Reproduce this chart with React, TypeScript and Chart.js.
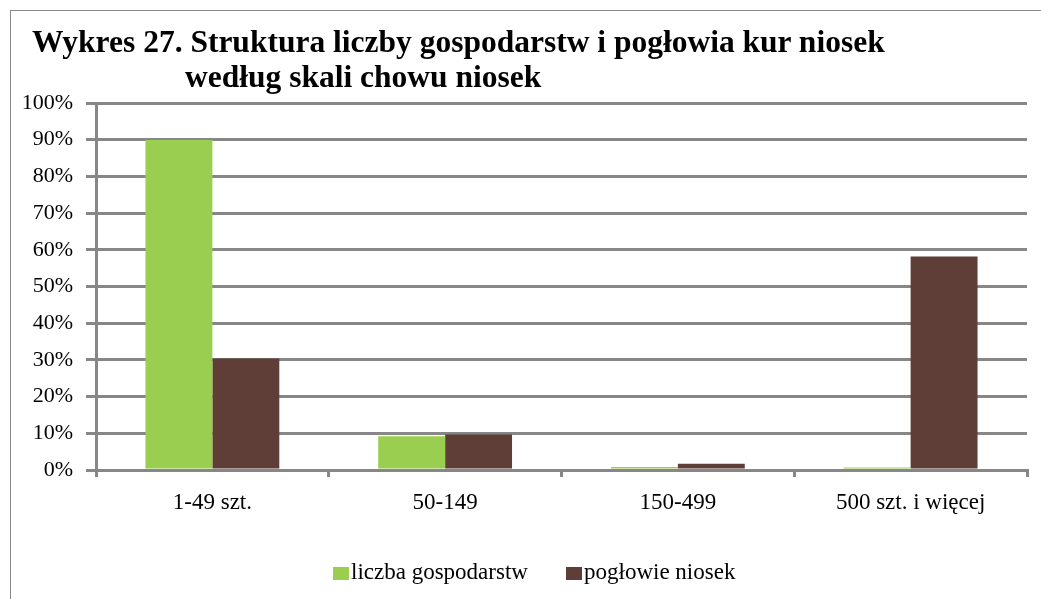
import React, { useEffect, useRef } from 'react';
import { Chart, registerables } from 'chart.js';

Chart.register(...registerables);

const titleLine1 = 'Wykres 27. Struktura liczby gospodarstw i pogłowia kur niosek';
const titleLine2 = 'według skali chowu niosek';
const categories = ['1-49 szt.', '50-149', '150-499', '500 szt. i więcej'];
const seriesNames = ['liczba gospodarstw', 'pogłowie niosek'];
const liczbaGospodarstw = [89.9, 9.2, 0.8, 0.7];
const poglowieNiosek = [30.4, 9.7, 1.7, 58.2];
const yMin = 0;
const yMax = 100;
const yStep = 10;

const GREEN = '#99CE50';
const BROWN = '#5F3E38';
const GRID = '#878787';
const FONT = '"Liberation Serif", "Times New Roman", serif';
const seriesColors = [GREEN, BROWN];
const legendBoxX = [333, 566];

export default function App() {
  const ref = useRef<HTMLCanvasElement>(null);

  useEffect(() => {
    if (!ref.current) return;
    const chart = new Chart(ref.current, {
      type: 'bar',
      data: {
        labels: categories,
        datasets: [
          {
            label: seriesNames[0],
            data: liczbaGospodarstw,
            backgroundColor: seriesColors[0],
            borderWidth: 0,
            categoryPercentage: 0.575,
            barPercentage: 1.0,
          },
          {
            label: seriesNames[1],
            data: poglowieNiosek,
            backgroundColor: seriesColors[1],
            borderWidth: 0,
            categoryPercentage: 0.575,
            barPercentage: 1.0,
          },
        ],
      },
      options: {
        responsive: false,
        animation: false,
        layout: { padding: { left: 0, right: 14, top: 103, bottom: 46 } },
        plugins: {
          title: { display: false },
          tooltip: { enabled: false },
          legend: { display: false },
        },
        scales: {
          x: {
            afterFit: (s: any) => {
              s.height = 83;
            },
            grid: {
              display: true,
              drawOnChartArea: false,
              drawTicks: true,
              tickLength: 7,
              color: GRID,
              lineWidth: 3,
              offset: true,
            },
            border: { display: true, color: GRID, width: 3 },
            ticks: {
              color: '#000',
              padding: 12,
              font: { family: FONT, size: 23 },
              maxRotation: 0,
            },
          },
          y: {
            min: yMin,
            max: yMax,
            afterFit: (s: any) => {
              s.width = 96;
            },
            grid: {
              display: true,
              drawTicks: true,
              tickLength: 10,
              color: GRID,
              lineWidth: 3,
            },
            border: { display: true, color: GRID, width: 3 },
            ticks: {
              stepSize: yStep,
              color: '#000',
              padding: 13,
              font: { family: FONT, size: 22 },
              callback: (v: any) => v + '%',
            },
          },
        },
      },
    });
    return () => chart.destroy();
  }, []);

  return (
    <div style={{ position: 'fixed', left: 0, top: 0, width: 1041, height: 599, background: '#fff', overflow: 'hidden' }}>
      <div
        style={{
          position: 'absolute',
          left: 10,
          top: 10,
          right: -2,
          bottom: -2,
          borderTop: '1px solid #8a8a8a',
          borderLeft: '1px solid #8a8a8a',
        }}
      />
      <canvas ref={ref} width={1041} height={599} style={{ position: 'absolute', left: 0, top: 0 }} />
      <div
        style={{
          position: 'absolute',
          left: 32,
          top: 24,
          fontFamily: FONT,
          fontWeight: 'bold',
          fontSize: 31.5,
          lineHeight: '35px',
          color: '#000',
          whiteSpace: 'nowrap',
        }}
      >
        <div>{titleLine1}</div>
        <div style={{ paddingLeft: 153 }}>{titleLine2}</div>
      </div>
      {seriesNames.map((name, i) => (
        <React.Fragment key={name}>
          <div
            style={{
              position: 'absolute',
              left: legendBoxX[i],
              top: 567,
              width: 16,
              height: 13,
              background: seriesColors[i],
            }}
          />
          <div
            style={{
              position: 'absolute',
              left: legendBoxX[i] + 18,
              top: 560,
              fontFamily: FONT,
              fontSize: 23,
              lineHeight: '23px',
              color: '#000',
              whiteSpace: 'nowrap',
            }}
          >
            {name}
          </div>
        </React.Fragment>
      ))}
    </div>
  );
}
